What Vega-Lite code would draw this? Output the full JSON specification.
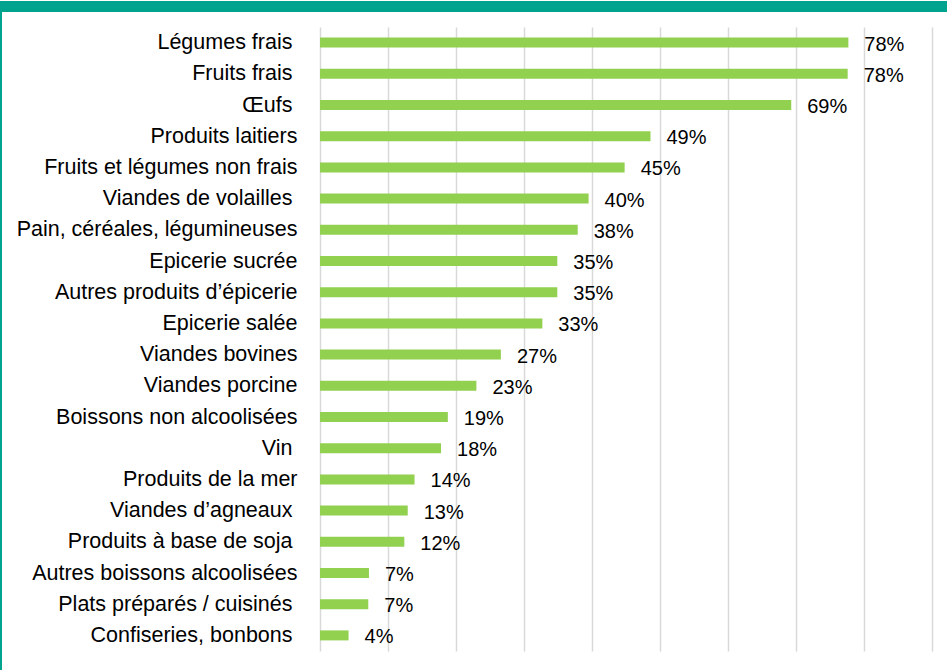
{
  "$schema": "https://vega.github.io/schema/vega-lite/v6.json",
  "background": "white",
  "padding": 0,
  "config": {"view": {"stroke": null}, "font": "Liberation Sans"},
  "datasets": {
    "food": [
      {"cat": "Légumes frais ", "value": 0.777, "label": "78%"},
      {"cat": "Fruits frais ", "value": 0.776, "label": "78%"},
      {"cat": "Œufs ", "value": 0.693, "label": "69%"},
      {"cat": "Produits laitiers", "value": 0.486, "label": "49%"},
      {"cat": "Fruits et légumes non frais", "value": 0.448, "label": "45%"},
      {"cat": "Viandes de volailles ", "value": 0.395, "label": "40%"},
      {"cat": "Pain, céréales, légumineuses", "value": 0.379, "label": "38%"},
      {"cat": "Epicerie sucrée", "value": 0.349, "label": "35%"},
      {"cat": "Autres produits d’épicerie", "value": 0.349, "label": "35%"},
      {"cat": "Epicerie salée", "value": 0.327, "label": "33%"},
      {"cat": "Viandes bovines", "value": 0.266, "label": "27%"},
      {"cat": "Viandes porcine", "value": 0.230, "label": "23%"},
      {"cat": "Boissons non alcoolisées", "value": 0.188, "label": "19%"},
      {"cat": "Vin ", "value": 0.178, "label": "18%"},
      {"cat": "Produits de la mer", "value": 0.139, "label": "14%"},
      {"cat": "Viandes d’agneaux ", "value": 0.129, "label": "13%"},
      {"cat": "Produits à base de soja ", "value": 0.124, "label": "12%"},
      {"cat": "Autres boissons alcoolisées", "value": 0.072, "label": "7%"},
      {"cat": "Plats préparés / cuisinés ", "value": 0.071, "label": "7%"},
      {"cat": "Confiseries, bonbons ", "value": 0.042, "label": "4%"}
    ]
  },
  "spacing": 0,
  "hconcat": [
    {
      "width": 2,
      "height": 670,
      "view": {"fill": "#00A38E", "stroke": null},
      "data": {"values": [{}]},
      "mark": {"type": "text", "text": ""}
    },
    {
      "spacing": 15,
      "vconcat": [
        {
          "width": 945,
          "height": 11,
          "view": {"fill": "#00A38E", "stroke": null},
          "data": {"values": [{}]},
          "mark": {"type": "text", "text": ""}
        },
        {
          "spacing": 0,
          "hconcat": [
            {
              "width": 318,
              "height": 624,
              "data": {"name": "food"},
              "mark": {"type": "text", "text": ""},
              "encoding": {
                "y": {
                  "field": "cat",
                  "type": "nominal",
                  "sort": null,
                  "scale": {"type": "point", "padding": 0.5},
                  "axis": {
                    "title": null,
                    "domain": false,
                    "ticks": false,
                    "grid": false,
                    "labelFont": "Liberation Sans",
                    "labelFontSize": 21.5,
                    "labelColor": "#000000",
                    "labelPadding": {
                      "condition": {"test": "slice(datum.value, -1) === ' '", "value": -290},
                      "value": -295
                    },
                    "labelLimit": 400
                  }
                }
              }
            },
            {
              "width": 612,
              "height": 624,
              "data": {"name": "food"},
              "encoding": {
                "y": {
                  "field": "cat",
                  "type": "nominal",
                  "sort": null,
                  "scale": {"paddingInner": 0, "paddingOuter": 0},
                  "axis": null
                },
                "x": {
                  "field": "value",
                  "type": "quantitative",
                  "scale": {"domain": [0, 0.9], "nice": false, "zero": true},
                  "axis": {
                    "title": null,
                    "labels": false,
                    "ticks": false,
                    "domain": false,
                    "grid": true,
                    "values": [0, 0.1, 0.2, 0.3, 0.4, 0.5, 0.6, 0.7, 0.8, 0.9],
                    "gridColor": "#d9d9d9",
                    "gridWidth": 1.5
                  }
                }
              },
              "layer": [
                {"mark": {"type": "bar", "color": "#92D050", "size": 10}},
                {
                  "mark": {
                    "type": "text",
                    "align": "left",
                    "baseline": "middle",
                    "dx": 16,
                    "dy": 2,
                    "fontSize": 20,
                    "font": "Liberation Sans",
                    "color": "#000000"
                  },
                  "encoding": {"text": {"field": "label", "type": "nominal"}}
                }
              ]
            }
          ]
        }
      ]
    }
  ]
}
